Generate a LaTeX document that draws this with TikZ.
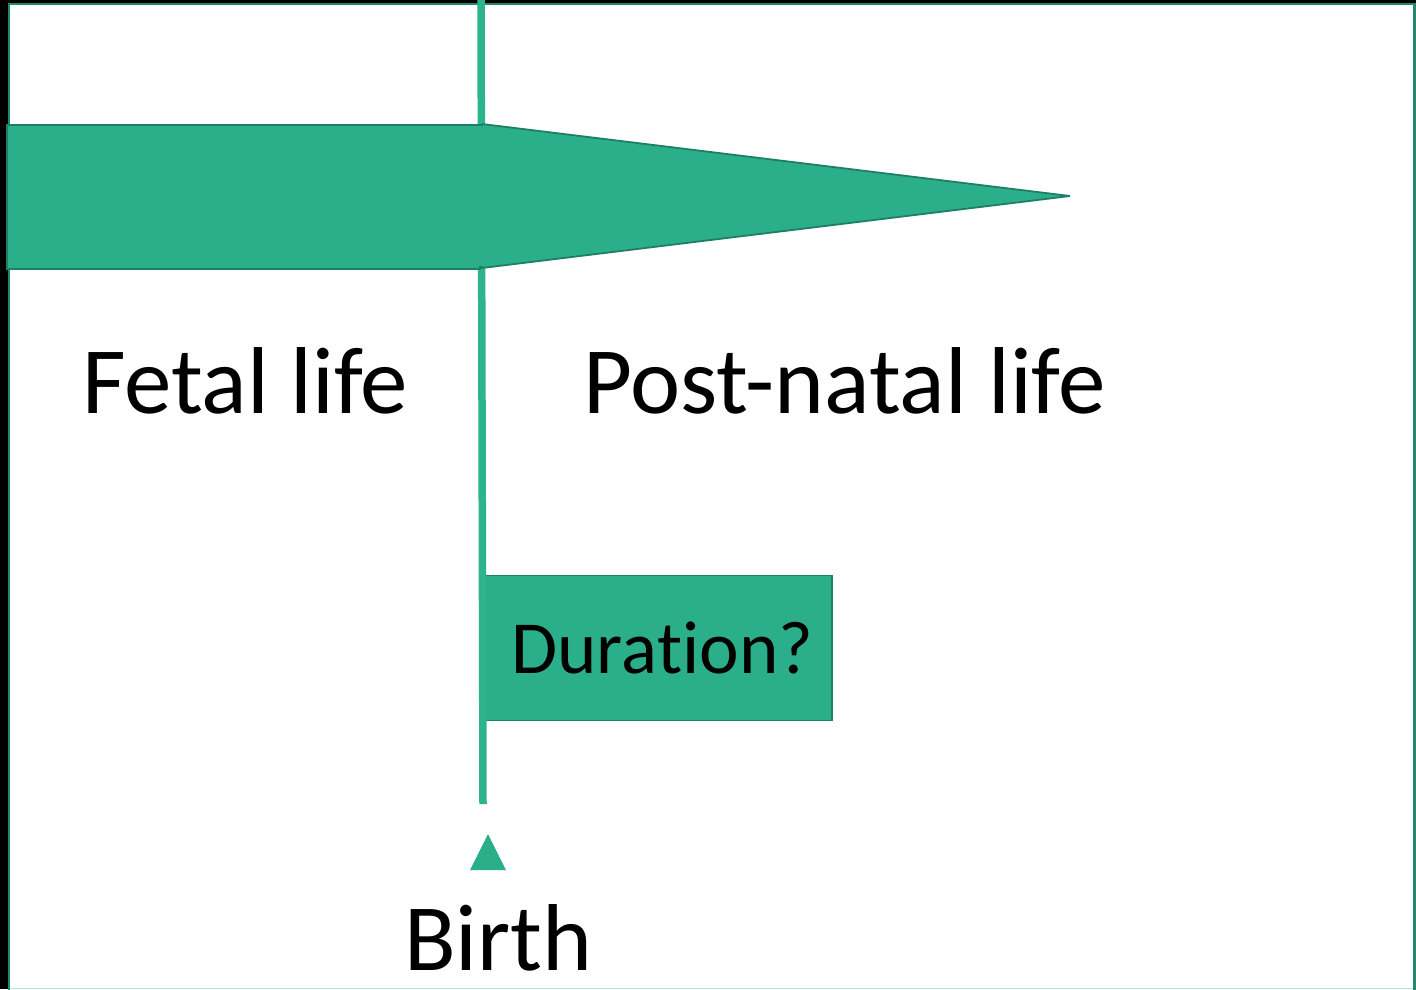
\documentclass[tikz,border=0pt]{standalone}
\usepackage{fontspec}
\setmainfont[Ligatures={NoCommon,NoRare}]{Carlito}
\definecolor{tealfill}{HTML}{2BAF8A}
\definecolor{tealdark}{HTML}{1E7F66}
\definecolor{tealline}{HTML}{2DB38D}
\definecolor{tealframe}{HTML}{1F8A6E}
\definecolor{tealpale}{HTML}{BFE3D8}
\tikzset{
  shapefill/.style={fill=tealfill, draw=tealdark, line width=1.8pt},
  lbl/.style={inner sep=0pt, anchor=base west, font=\fontsize{95}{95}\selectfont},
  boxlbl/.style={inner sep=0pt, anchor=base west, font=\fontsize{75}{75}\selectfont},
}
\begin{document}
\begin{tikzpicture}[x=1pt,y=-1pt]
\useasboundingbox (0,0) rectangle (1416,989);
\fill[black] (0,0) rectangle (1416,989);
\fill[white] (9,4) rectangle (1414,989);
\draw[tealframe, line width=2.5pt] (9.2,990) -- (9.2,4.2) -- (1414.7,4.2) -- (1414.7,990);
\draw[tealpale, line width=1.2pt] (10,988.4) -- (1413,988.4);
% duration box
\node[shapefill, minimum width=351pt, minimum height=145pt, anchor=north west, inner sep=0pt] (dur) at (480,574.5) {};
\node[boxlbl] (durtxt) at (511,673) {Dura\kern0pt tion?};
% vertical birth line
\coordinate (ltop) at (481,0);
\coordinate (lbot) at (483,804);
\draw[tealline, line width=7.5pt] (ltop) -- (lbot);
% bar and taper
\node[shapefill, minimum width=473pt, minimum height=144pt, anchor=north west, inner sep=0pt] (bar) at (6,124) {};
\coordinate (t1) at (482,124);
\coordinate (t2) at (1070,196);
\coordinate (t3) at (482,268);
\filldraw[shapefill, line join=bevel] (t1) -- (t2) -- (t3) -- cycle;
\fill[tealfill] (478,126) rectangle (486,266);
% birth marker
\coordinate (m1) at (488,834);
\coordinate (m2) at (470,870);
\coordinate (m3) at (506,870);
\fill[tealfill] (m1) -- (m3) -- (m2) -- cycle;
% labels
\node[lbl] (fetal) at (82,413) {Fetal life};
\node[lbl] (post) at (583,413) {Post-natal life};
\node[lbl] (birth) at (404,970) {Birth};
\end{tikzpicture}
\end{document}
